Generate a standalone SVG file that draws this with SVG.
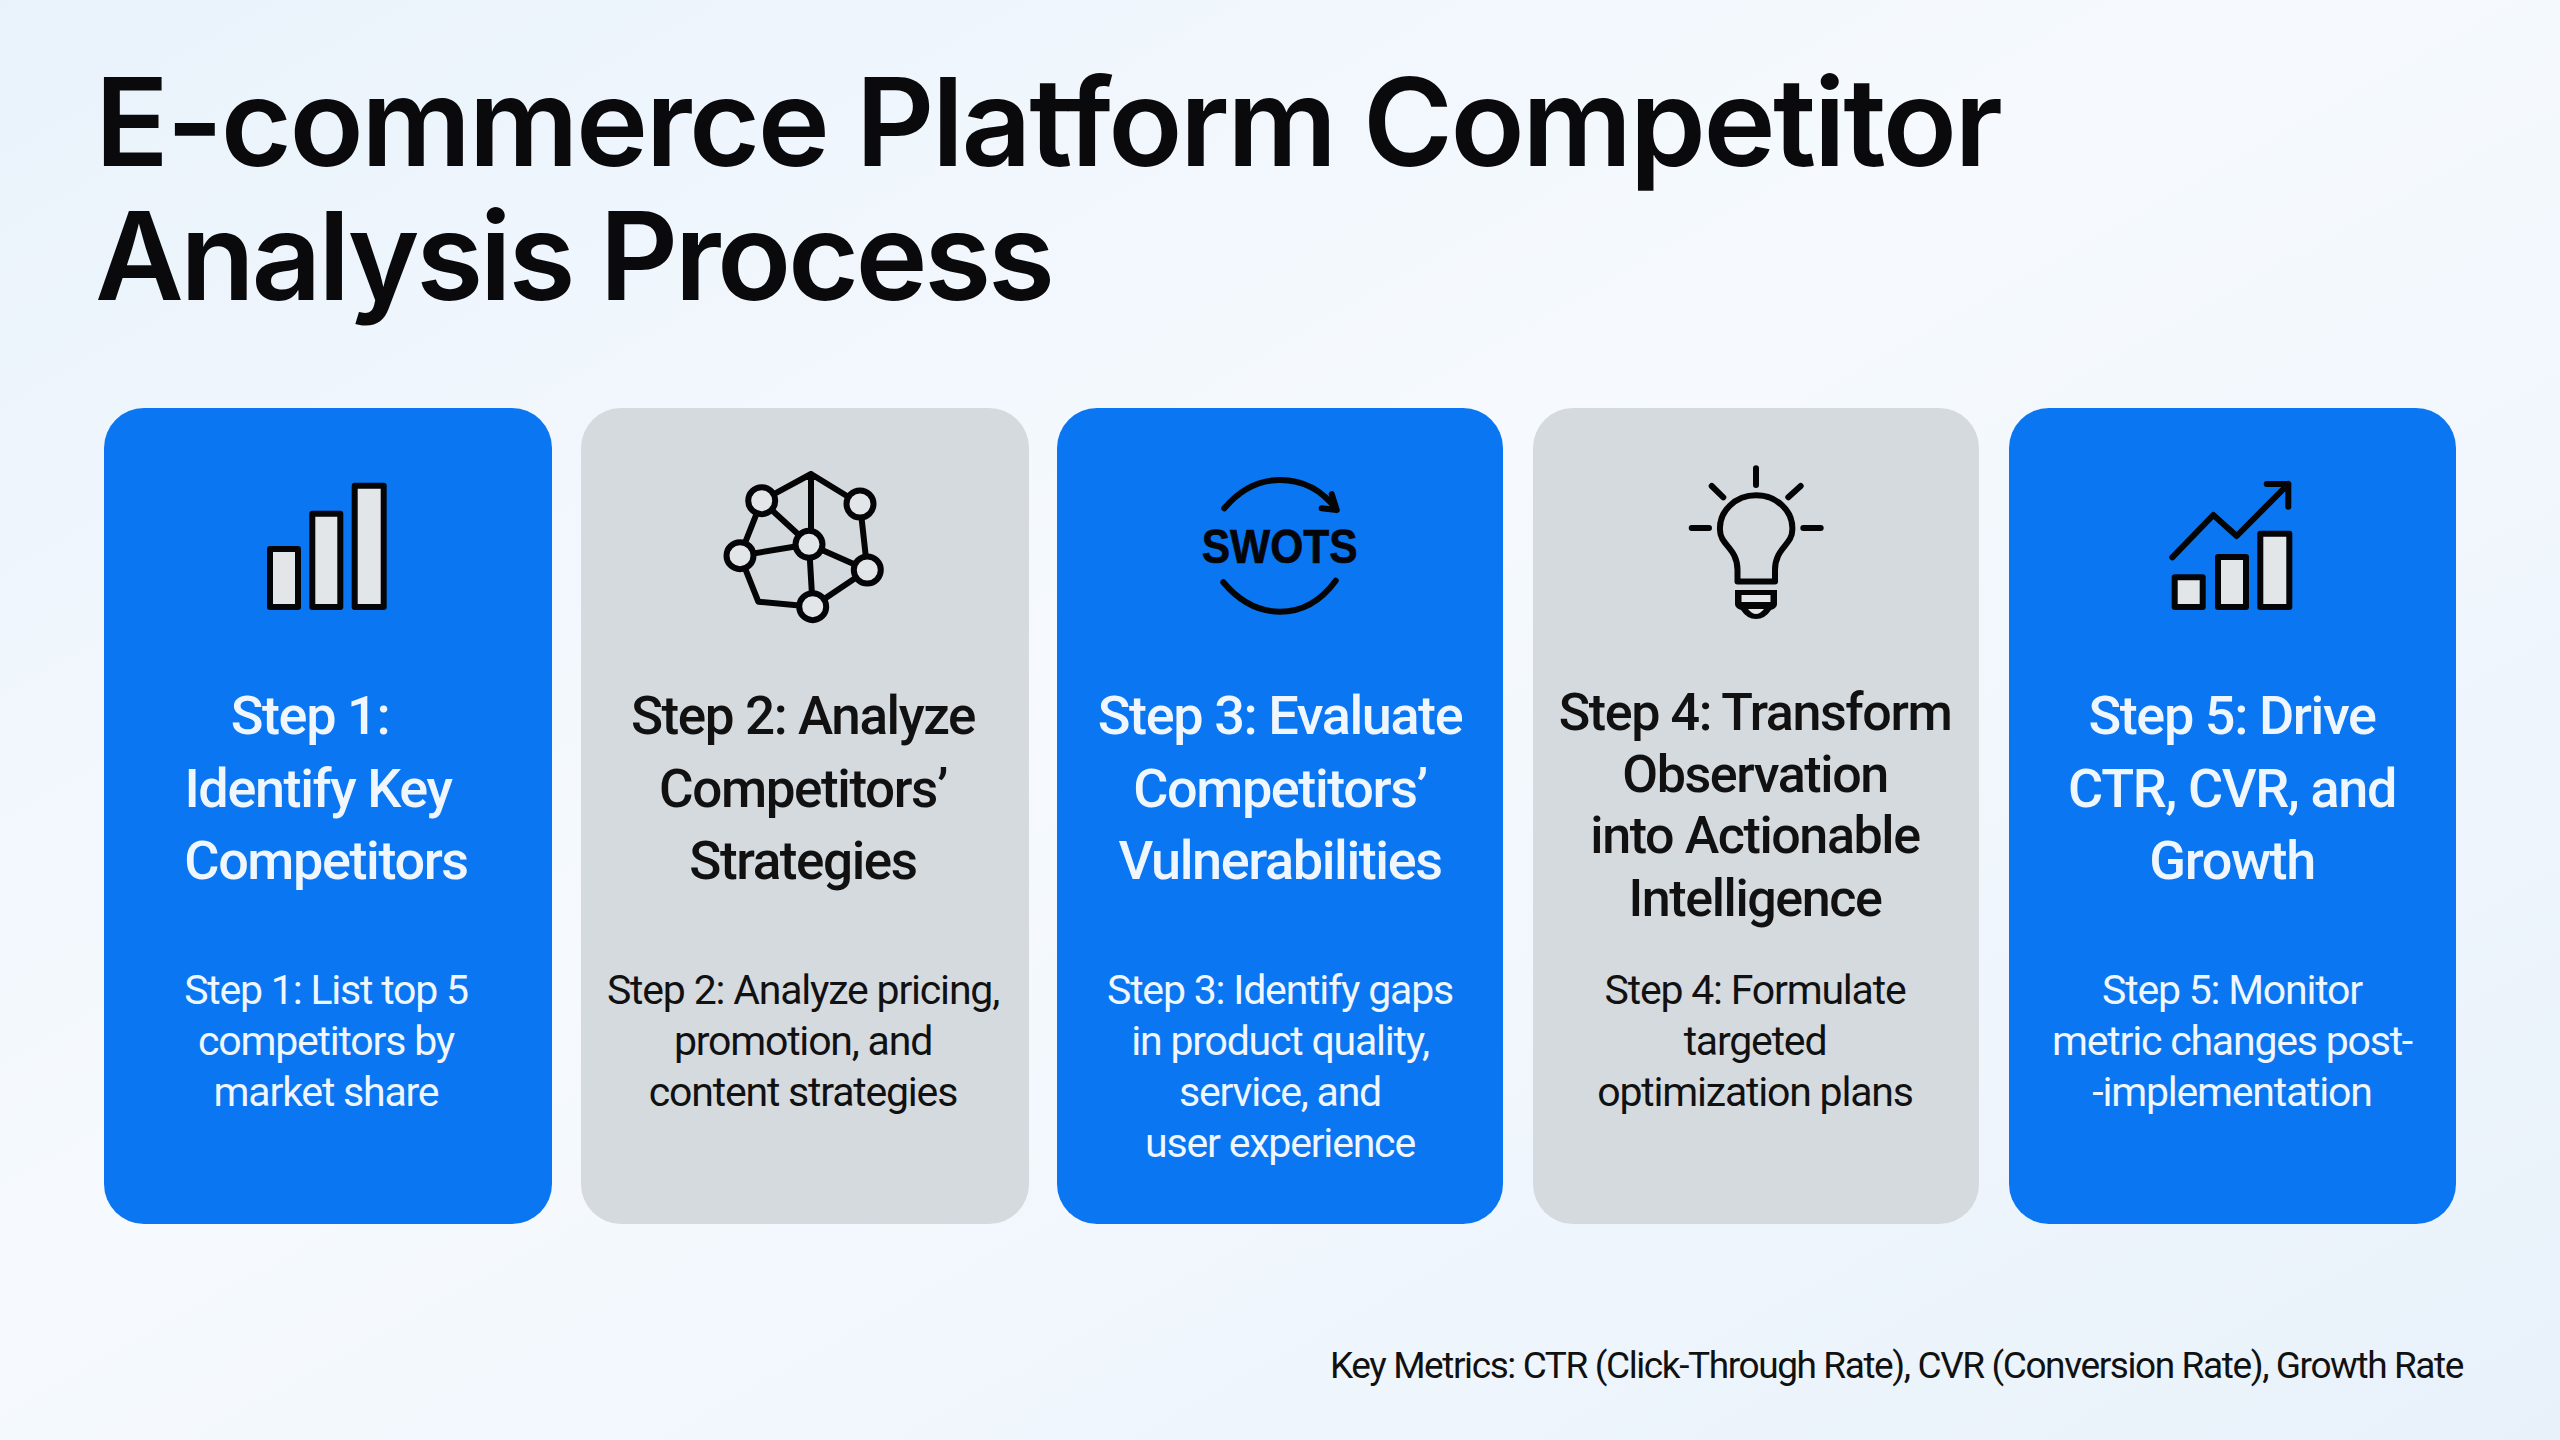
<svg xmlns="http://www.w3.org/2000/svg" width="2560" height="1440" viewBox="0 0 2560 1440">
<defs>
<linearGradient id="bg" x1="0" y1="0" x2="1" y2="1"><stop offset="0" stop-color="#e9f2fb"/><stop offset=".45" stop-color="#f6fafe"/><stop offset="1" stop-color="#e8f1fa"/></linearGradient>
</defs>
<style>
text{font-family:Roboto,"Liberation Sans",sans-serif;text-anchor:middle}
.title{font-family:Inter,"Liberation Sans",sans-serif;font-size:122px;font-weight:600;text-anchor:start;fill:#0a0a0c;font-variant-ligatures:none}
.h{font-size:54px;font-weight:500;letter-spacing:-1.4px}
.h2{font-size:53px}
.h4{font-size:52px}
.b{font-size:41px;font-weight:400;letter-spacing:-1.2px}
.w{fill:#f0f6fd}.k{fill:#111}
.blue{fill:#0a76f2}.grey{fill:#d5dadf}
.i{fill:none;stroke:#050505;stroke-width:6;stroke-linecap:round;stroke-linejoin:round}
.f{fill:#e3e6e9;stroke:#050508;stroke-width:6;stroke-linejoin:round}
</style>
<rect width="2560" height="1440" fill="url(#bg)"/>
<text class="title" x="95" y="166" textLength="1908" lengthAdjust="spacing">E-commerce Platform Competitor</text>
<text class="title" x="95" y="300" textLength="960" lengthAdjust="spacing">Analysis Process</text>
<g id="card1"><rect class="blue" x="104" y="408" width="448" height="816" rx="40"/>
<g id="icon1"><rect class="f" x="270" y="549" width="28" height="58"/><rect class="f" x="312.300" y="513.700" width="28" height="93.300"/><rect class="f" x="354.700" y="485.700" width="29" height="121.300"/></g>
<text class="h w" x="310" y="734">Step 1:</text><text class="h w" x="318" y="807">Identify Key</text><text class="h w" x="326" y="879">Competitors</text>
<text class="b w" x="326" y="1004">Step 1: List top 5</text><text class="b w" x="326" y="1055">competitors by</text><text class="b w" x="326" y="1106">market share</text></g>
<g id="card2"><rect class="grey" x="581" y="408" width="448" height="816" rx="40"/>
<g id="icon2"><path class="i" d="M761.700 500.700L811 474L860 504M811 474V544M761.700 500.700L809 544.300M761.700 500.700L740 555.700M740 555.700L809 544.300M860 504L867.300 570M809 544.300L867.300 570M809 544.300L812.700 606.700M867.300 570L812.700 606.700M740 555.700L758.300 601.700L812.700 606.700"/>
<circle class="f" cx="761.700" cy="500.700" r="13.500"/><circle class="f" cx="860" cy="504" r="13.500"/><circle class="f" cx="809" cy="544.300" r="13.500"/><circle class="f" cx="740" cy="555.700" r="13.500"/><circle class="f" cx="867.300" cy="570" r="13.500"/><circle class="f" cx="812.700" cy="606.700" r="13.500"/></g>
<text class="h h2 k" x="803" y="734">Step 2: Analyze</text><text class="h h2 k" x="803" y="807">Competitors’</text><text class="h h2 k" x="803" y="879">Strategies</text>
<text class="b k" x="803" y="1004">Step 2: Analyze pricing,</text><text class="b k" x="803" y="1055">promotion, and</text><text class="b k" x="803" y="1106">content strategies</text></g>
<g id="card3"><rect class="blue" x="1057" y="408" width="446" height="816" rx="40"/>
<g id="icon3"><path class="i" d="M1224.300 508.300Q1248 480 1280 480Q1315 480 1336.700 510M1331.700 494L1336.700 510L1321.700 508.300M1223.300 582.300Q1248 611.700 1280 611.700Q1313 611.700 1335.700 580.700"/>
<text x="1279.700" y="563.300" style="font-family:'Liberation Sans',sans-serif;font-size:49px;font-weight:700;stroke:#06060a;stroke-width:.7" textLength="156" lengthAdjust="spacingAndGlyphs" fill="#06060a">SWOTS</text></g>
<text class="h w" x="1280" y="734">Step 3: Evaluate</text><text class="h w" x="1280" y="807">Competitors’</text><text class="h w" x="1280" y="879">Vulnerabilities</text>
<text class="b w" x="1280" y="1004">Step 3: Identify gaps</text><text class="b w" x="1280" y="1055">in product quality,</text><text class="b w" x="1280" y="1106">service, and</text><text class="b w" x="1280" y="1157">user experience</text></g>
<g id="card4"><rect class="grey" x="1533" y="408" width="446" height="816" rx="40"/>
<g id="icon4"><path class="i" d="M1756 468.300V485M1711.700 486L1723.300 497.300M1800.700 486L1788.300 497.300M1691.700 528H1709M1803.300 528H1820.700M1737.500 581.500H1775V570C1775 548 1792.300 545 1792.300 530A36.200 33 0 1 0 1720 530C1720 545 1737.500 548 1737.500 570Z"/>
<path fill="#050505" d="M1735 590H1777V604Q1777 608 1771 610Q1765 619 1756 619Q1747 619 1741 610Q1735 608 1735 604Z"/><rect x="1741.500" y="595" width="29" height="7" fill="#e3e6e9"/><path fill="#e3e6e9" d="M1748 609H1764Q1760 614 1756 614Q1752 614 1748 609Z"/></g>
<text class="h h4 k" x="1755" y="730">Step 4: Transform</text><text class="h h4 k" x="1755" y="792">Observation</text><text class="h h4 k" x="1755" y="853">into Actionable</text><text class="h h4 k" x="1755" y="916">Intelligence</text>
<text class="b k" x="1755" y="1004">Step 4: Formulate</text><text class="b k" x="1755" y="1055">targeted</text><text class="b k" x="1755" y="1106">optimization plans</text></g>
<g id="card5"><rect class="blue" x="2009" y="408" width="447" height="816" rx="40"/>
<g id="icon5"><rect class="f" x="2174.700" y="577.300" width="28" height="29.700"/><rect class="f" x="2218" y="557" width="28" height="50"/><rect class="f" x="2260.300" y="533.700" width="29" height="73.300"/><path class="i" d="M2172.300 557.300L2213.300 515L2236.700 536L2288.300 484M2266.700 484H2288.300V506.700"/></g>
<text class="h w" x="2232" y="734">Step 5: Drive</text><text class="h w" x="2232" y="807">CTR, CVR, and</text><text class="h w" x="2232" y="879">Growth</text>
<text class="b w" x="2232" y="1004">Step 5: Monitor</text><text class="b w" x="2232" y="1055">metric changes post-</text><text class="b w" x="2232" y="1106">-implementation</text></g>
<text x="2463" y="1378" style="text-anchor:end;font-size:37px;letter-spacing:-1.4px" fill="#111">Key Metrics: CTR (Click-Through Rate), CVR (Conversion Rate), Growth Rate</text>
</svg>
